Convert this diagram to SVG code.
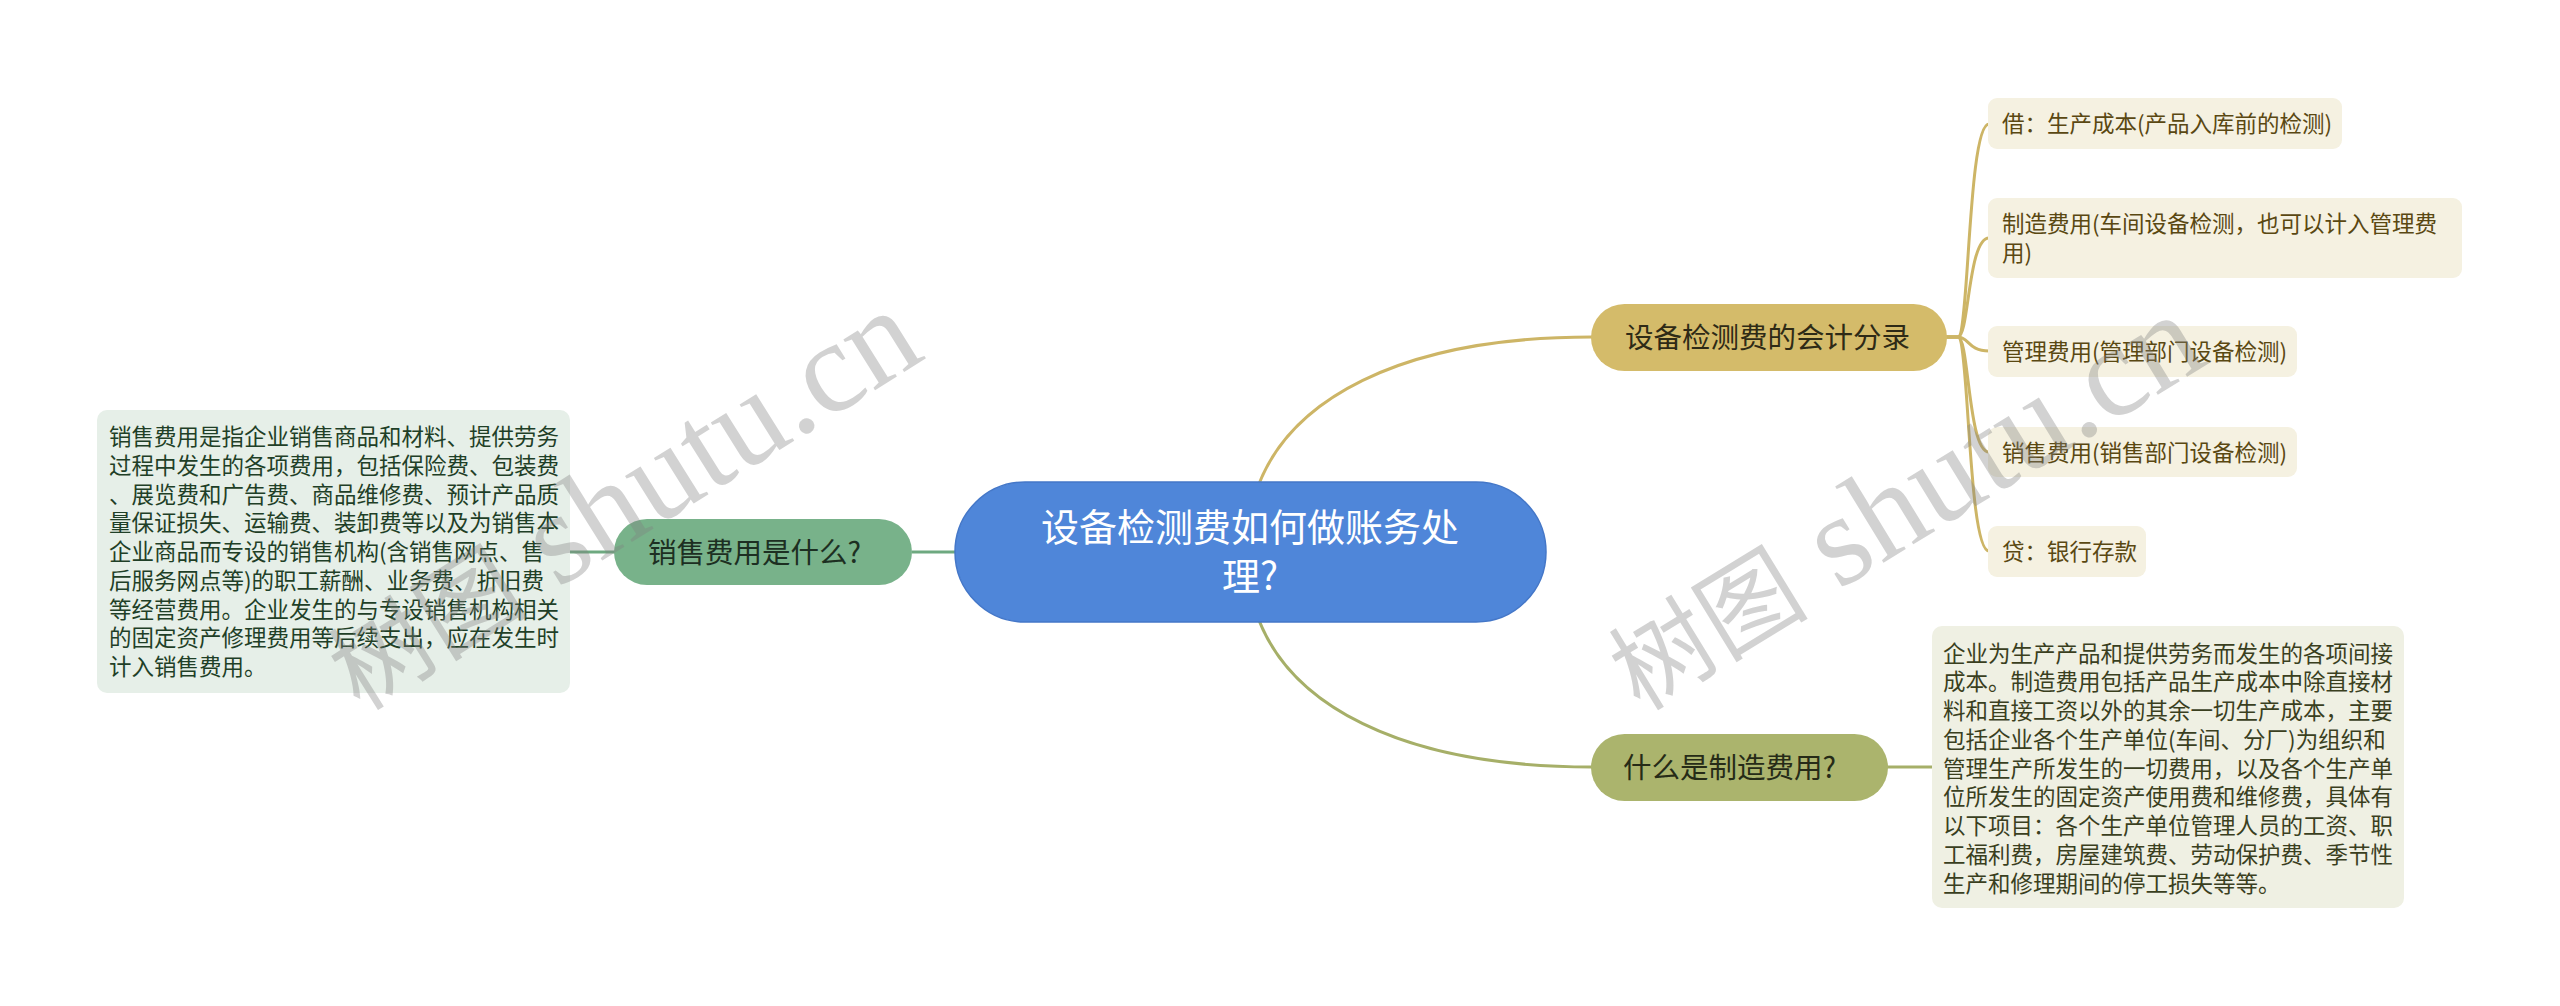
<svg xmlns="http://www.w3.org/2000/svg" width="2560" height="1006" viewBox="0 0 2560 1006">
<style>
text{font-family:"Noto Sans CJK SC","Noto Sans",sans-serif}
.c1{fill:none;stroke:#cdb566;stroke-width:3}
.c2{fill:none;stroke:#6ea980;stroke-width:3}
.c3{fill:none;stroke:#a6af68;stroke-width:3}
.t1{font-size:28.5px}
.leaf{font-size:22.5px}
.lt1{fill:#5a4812}
.lt2{fill:#1f3f27}
.lt3{fill:#3a3f1e}
.wm{fill:#808080;opacity:.35}
</style>
<rect width="2560" height="1006" fill="#ffffff"/>
<g id="connectors">
<path class="c1" d="M1255 495 C1285 400 1400 337 1592 337"/>
<path class="c3" d="M1255 609 C1285 704 1400 767 1592 767"/>
<path class="c2" d="M912 552 H960"/>
<path class="c2" d="M568 552 H615"/>
<path class="c3" d="M1887 767 H1934"/>
<path class="c1" d="M1945 337 L1958 337 C1969 337 1968 124 1989 124"/>
<path class="c1" d="M1945 337 L1958 337 C1969 337 1968 238 1989 238"/>
<path class="c1" d="M1945 337 L1958 337 C1969 337 1968 351 1989 351"/>
<path class="c1" d="M1945 337 L1958 337 C1969 337 1968 452 1989 452"/>
<path class="c1" d="M1945 337 L1958 337 C1969 337 1968 551 1989 551"/>
</g>
<g id="root">
<rect x="955" y="482" width="591" height="140" rx="70" fill="#4f86d9" stroke="#4477c8" stroke-width="1.5"/>
<text x="1250" y="541" font-size="38" fill="#ffffff" text-anchor="middle">设备检测费如何做账务处</text>
<text x="1250" y="590" font-size="38" fill="#ffffff" text-anchor="middle">理?</text>
</g>
<g id="n-entry">
<rect x="1591" y="304" width="356" height="67" rx="33.5" fill="#d4bb6a"/>
<text class="t1" x="1625" y="348" fill="#2e2a16">设备检测费的会计分录</text>
</g>
<g id="n-sales">
<rect x="614" y="519" width="298" height="66" rx="33" fill="#78b28a"/>
<text class="t1" x="648" y="563" fill="#1d2f22">销售费用是什么?</text>
</g>
<g id="n-mfg">
<rect x="1591" y="734" width="297" height="67" rx="33.5" fill="#abb46d"/>
<text class="t1" x="1623" y="778" fill="#262b17">什么是制造费用?</text>
</g>
<g id="leaf-1">
<rect x="1988" y="98" width="354" height="51" rx="9" fill="#f5f1e1"/>
<text class="leaf lt1" x="2002" y="132">借：生产成本(产品入库前的检测)</text>
</g>
<g id="leaf-2">
<rect x="1988" y="198" width="474" height="80" rx="9" fill="#f5f1e1"/>
<text class="leaf lt1" x="2002" y="232">制造费用(车间设备检测，也可以计入管理费</text>
<text class="leaf lt1" x="2002" y="261">用)</text>
</g>
<g id="leaf-3">
<rect x="1988" y="326" width="309" height="51" rx="9" fill="#f5f1e1"/>
<text class="leaf lt1" x="2002" y="360">管理费用(管理部门设备检测)</text>
</g>
<g id="leaf-4">
<rect x="1988" y="427" width="309" height="50" rx="9" fill="#f5f1e1"/>
<text class="leaf lt1" x="2002" y="460.5">销售费用(销售部门设备检测)</text>
</g>
<g id="leaf-5">
<rect x="1988" y="526" width="158" height="51" rx="9" fill="#f5f1e1"/>
<text class="leaf lt1" x="2002" y="560">贷：银行存款</text>
</g>
<g id="leaf-sales-desc">
<rect x="97" y="410" width="473" height="283" rx="10" fill="#e6efe8"/>
<text class="leaf lt2" x="109" y="445">销售费用是指企业销售商品和材料、提供劳务</text>
<text class="leaf lt2" x="109" y="473.75">过程中发生的各项费用，包括保险费、包装费</text>
<text class="leaf lt2" x="109" y="502.5">、展览费和广告费、商品维修费、预计产品质</text>
<text class="leaf lt2" x="109" y="531.25">量保证损失、运输费、装卸费等以及为销售本</text>
<text class="leaf lt2" x="109" y="560">企业商品而专设的销售机构(含销售网点、售</text>
<text class="leaf lt2" x="109" y="588.75">后服务网点等)的职工薪酬、业务费、折旧费</text>
<text class="leaf lt2" x="109" y="617.5">等经营费用。企业发生的与专设销售机构相关</text>
<text class="leaf lt2" x="109" y="646.25">的固定资产修理费用等后续支出，应在发生时</text>
<text class="leaf lt2" x="109" y="675">计入销售费用。</text>
</g>
<g id="leaf-mfg-desc">
<rect x="1932" y="626" width="472" height="282" rx="10" fill="#eff0e3"/>
<text class="leaf lt3" x="1943" y="661.5">企业为生产产品和提供劳务而发生的各项间接</text>
<text class="leaf lt3" x="1943" y="690.25">成本。制造费用包括产品生产成本中除直接材</text>
<text class="leaf lt3" x="1943" y="719">料和直接工资以外的其余一切生产成本，主要</text>
<text class="leaf lt3" x="1943" y="747.75">包括企业各个生产单位(车间、分厂)为组织和</text>
<text class="leaf lt3" x="1943" y="776.5">管理生产所发生的一切费用，以及各个生产单</text>
<text class="leaf lt3" x="1943" y="805.25">位所发生的固定资产使用费和维修费，具体有</text>
<text class="leaf lt3" x="1943" y="834">以下项目：各个生产单位管理人员的工资、职</text>
<text class="leaf lt3" x="1943" y="862.75">工福利费，房屋建筑费、劳动保护费、季节性</text>
<text class="leaf lt3" x="1943" y="891.5">生产和修理期间的停工损失等等。</text>
</g>
<g id="watermark">
<text class="wm" transform="translate(360,712) rotate(-32)"><tspan font-size="100">树图</tspan><tspan font-family="Liberation Serif,serif" font-size="130"> shutu.cn</tspan></text>
<text class="wm" transform="translate(1640,712) rotate(-31.5)"><tspan font-size="100">树图</tspan><tspan font-family="Liberation Serif,serif" font-size="130"> shutu.cn</tspan></text>
</g>
</svg>
